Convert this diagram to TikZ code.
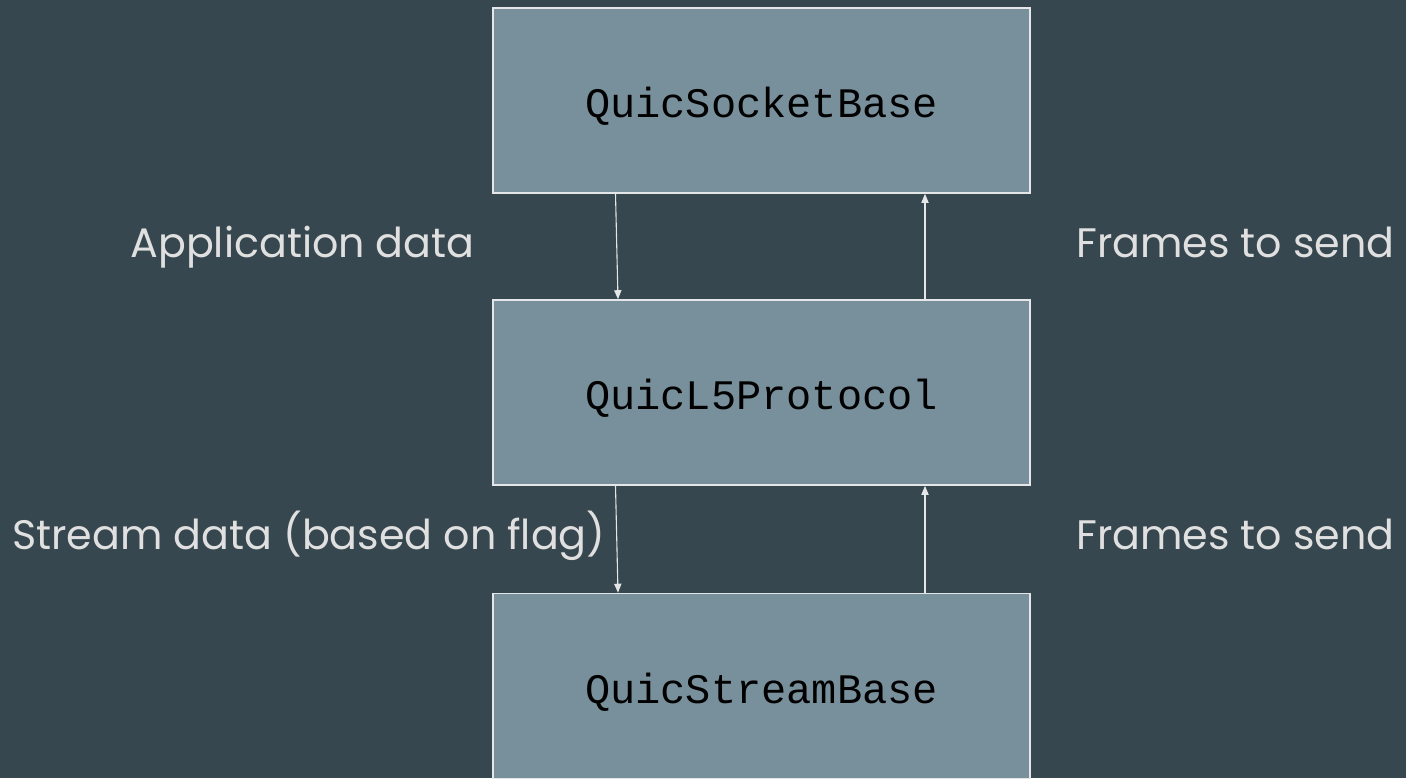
\documentclass[tikz,border=0pt]{standalone}
\usepackage{fontspec}
\setmainfont{Poppins}
\newfontfamily\codefont{Liberation Mono}
\usetikzlibrary{arrows.meta}
\definecolor{bgslate}{HTML}{37474F}
\definecolor{boxfill}{HTML}{78909C}
\definecolor{edgegray}{HTML}{E4E6E7}
\definecolor{labelgray}{HTML}{E0E0E0}
\tikzset{
  layerbox/.style={draw=edgegray, line width=0.8pt, fill=boxfill,
    minimum width=268.5pt, minimum height=92.5pt, inner sep=0pt,
    text height=17pt, text depth=0pt,
    font=\codefont\fontsize{21}{24}\selectfont, text=black},
  flow/.style={draw=edgegray, line width=0.55pt,
    -{Triangle[length=4.5pt,width=3.6pt]}},
  flowlabel/.style={anchor=base west, inner sep=0pt, text=labelgray,
    font=\fontsize{20.6}{24}\selectfont}
}
\begin{document}
\begin{tikzpicture}[x=0.5pt,y=-0.5pt]
  \fill[bgslate] (0,0) rectangle (1406,778);
  \useasboundingbox (0,0) rectangle (1406,778);

  % protocol stack
  \node[layerbox] (sock) at (761.5,100.5) {QuicSocketBase};
  \node[layerbox] (l5)   at (761.5,392.5) {QuicL5Protocol};
  \node[layerbox] (strm) at (761.5,686)   {QuicStreamBase};

  % downward data and upward frames
  \draw[flow] ([xshift=-73pt]sock.south) -- ([xshift=-71.75pt]l5.north);
  \draw[flow] ([xshift=81.75pt]l5.north) -- ([xshift=81.75pt]sock.south);
  \draw[flow] ([xshift=-73pt]l5.south) -- ([xshift=-71.75pt]strm.north);
  \draw[flow] ([xshift=81.75pt]strm.north) -- ([xshift=81.75pt]l5.south);

  % edge captions
  \node[flowlabel] (appdata) at (130,257) {Application data};
  \node[flowlabel] (frtop)   at (1076,257) {Frames to send};
  \node[flowlabel] (strdata) at (12,549) {Stream data (based on flag)};
  \node[flowlabel] (frbot)   at (1076,549) {Frames to send};
\end{tikzpicture}
\end{document}
